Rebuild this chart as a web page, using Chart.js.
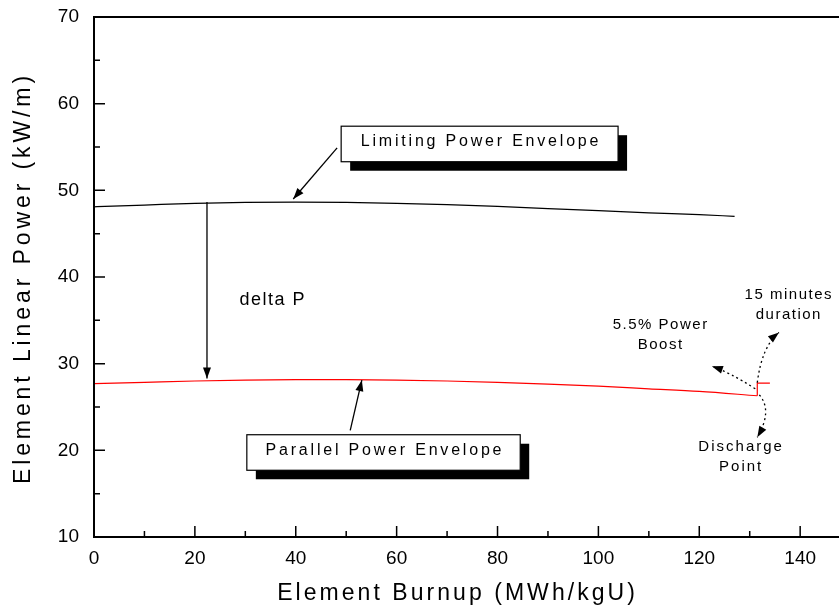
<!DOCTYPE html>
<html>
<head>
<meta charset="utf-8">
<script src="https://cdn.jsdelivr.net/npm/chart.js@4"></script>
<style>
  html, body { margin: 0; padding: 0; background: #fff; }
  #wrap { width: 839px; height: 612px; }
</style>
</head>
<body>
<div id="wrap"><canvas id="burnupChart" width="839" height="612"></canvas></div>
<script>
// data
const burnupLimiting = [0, 10, 20, 30, 40, 50, 60, 70, 80, 90, 100, 110, 120, 127];
const powerLimiting  = [48.1, 48.3, 48.5, 48.6, 48.65, 48.6, 48.5, 48.35, 48.15, 47.9, 47.65, 47.4, 47.2, 47.0];

const burnupParallel = [0, 10, 20, 30, 40, 50, 60, 70, 80, 90, 100, 110, 120, 131.5];
const powerParallel  = [27.7, 27.85, 28.0, 28.1, 28.15, 28.15, 28.1, 28.0, 27.85, 27.65, 27.4, 27.1, 26.8, 26.3];

// 5.5% power boost step at discharge
const burnupBoost = [131.5, 131.5, 134];
const powerBoost  = [26.3, 27.75, 27.75];

const xTicks = [0, 10, 20, 30, 40, 50, 60, 70, 80, 90, 100, 110, 120, 130, 140];
const yTicks = [10, 15, 20, 25, 30, 35, 40, 45, 50, 55, 60, 65, 70];

const xTitle = 'Element Burnup (MWh/kgU)';
const yTitle = 'Element Linear Power (kW/m)';

const FONT = "'Liberation Sans', Arial, sans-serif";

function pts(xs, ys) {
  return xs.map((x, i) => ({x: x, y: ys[i]}));
}

// labels and arrows, placed in data units
const boxes = [
  {text: 'Limiting Power Envelope', x0: 49.0, x1: 103.9, y0: 57.4, y1: 53.3},
  {text: 'Parallel Power Envelope', x0: 30.3, x1: 84.5, y0: 21.8, y1: 17.7}
];
const arrows = [
  {from: [48.2, 54.9], to: [39.5, 49.0]},
  {from: [50.8, 22.3], to: [53.1, 28.1]},
  {from: [22.4, 48.65], to: [22.4, 28.3]}
];
const dottedArrows = [
  {from: [131.1, 27.1], via: [126, 29.0], to: [122.5, 29.7]},
  {from: [131.5, 27.8], via: [132.4, 32.0], to: [135.8, 33.6]},
  {from: [131.9, 26.4], via: [134.6, 24.6], to: [131.5, 21.5]}
];
const notes = [
  {lines: ['delta P'], x: 35.3, y: 37.3, size: 18, spacing: 1.5},
  {lines: ['5.5% Power', 'Boost'], x: 112.2, y: 34.5, size: 15, spacing: 1.5},
  {lines: ['15 minutes', 'duration'], x: 137.6, y: 37.9, size: 15, spacing: 1.5},
  {lines: ['Discharge', 'Point'], x: 128.1, y: 20.4, size: 15, spacing: 2}
];

function arrowHead(ctx, x1, y1, x2, y2) {
  const a = Math.atan2(y2 - y1, x2 - x1);
  const len = 11, w = 4;
  ctx.beginPath();
  ctx.moveTo(x2, y2);
  ctx.lineTo(x2 - len * Math.cos(a) + w * Math.sin(a), y2 - len * Math.sin(a) - w * Math.cos(a));
  ctx.lineTo(x2 - len * Math.cos(a) - w * Math.sin(a), y2 - len * Math.sin(a) + w * Math.cos(a));
  ctx.closePath();
  ctx.fill();
}

function spacedText(ctx, text, x, y, spacing) {
  ctx.letterSpacing = spacing + 'px';
  ctx.fillText(text, x + spacing / 2, y);
  ctx.letterSpacing = '0px';
}

const framePlugin = {
  id: 'frame',
  afterDatasetsDraw(chart) {
    const ctx = chart.ctx;
    const xs = chart.scales.x, ys = chart.scales.y;
    const a = chart.chartArea;
    const px = v => xs.getPixelForValue(v);
    const py = v => ys.getPixelForValue(v);
    ctx.save();
    ctx.strokeStyle = '#000';
    ctx.fillStyle = '#000';

    // axes frame
    ctx.lineWidth = 2;
    ctx.beginPath();
    ctx.moveTo(chart.width, a.top);
    ctx.lineTo(a.left, a.top);
    ctx.lineTo(a.left, a.bottom);
    ctx.lineTo(chart.width, a.bottom);
    ctx.stroke();

    // inward ticks
    ctx.lineWidth = 1.5;
    ctx.beginPath();
    xTicks.forEach(v => {
      const l = v % 20 === 0 ? 11 : 6;
      ctx.moveTo(px(v), a.bottom);
      ctx.lineTo(px(v), a.bottom - l);
    });
    yTicks.forEach(v => {
      const l = v % 10 === 0 ? 11 : 6;
      ctx.moveTo(a.left, py(v));
      ctx.lineTo(a.left + l, py(v));
    });
    ctx.stroke();

    // axis titles (spaced lettering)
    ctx.font = '23px ' + FONT;
    ctx.textAlign = 'center';
    ctx.textBaseline = 'middle';
    spacedText(ctx, xTitle, 456, 594, 3.05);
    ctx.save();
    ctx.translate(24, 280);
    ctx.rotate(-Math.PI / 2);
    spacedText(ctx, yTitle, 0, 0, 3.9);
    ctx.restore();

    // boxes with drop shadow
    boxes.forEach(b => {
      const x0 = px(b.x0), x1 = px(b.x1), y0 = py(b.y0), y1 = py(b.y1);
      ctx.fillStyle = '#000';
      ctx.fillRect(x0 + 9, y0 + 9, x1 - x0, y1 - y0);
      ctx.fillStyle = '#fff';
      ctx.fillRect(x0, y0, x1 - x0, y1 - y0);
      ctx.lineWidth = 1.2;
      ctx.strokeRect(x0, y0, x1 - x0, y1 - y0);
      ctx.fillStyle = '#000';
      ctx.font = '16px ' + FONT;
      ctx.textAlign = 'center';
      ctx.textBaseline = 'middle';
      spacedText(ctx, b.text, (x0 + x1) / 2, (y0 + y1) / 2 - 2, 2.8);
    });

    // solid arrows
    ctx.lineWidth = 1.3;
    arrows.forEach(ar => {
      const x1 = px(ar.from[0]), y1 = py(ar.from[1]), x2 = px(ar.to[0]), y2 = py(ar.to[1]);
      ctx.beginPath();
      ctx.moveTo(x1, y1);
      ctx.lineTo(x2, y2);
      ctx.stroke();
      arrowHead(ctx, x1, y1, x2, y2);
    });

    // dotted curved arrows
    dottedArrows.forEach(ar => {
      const x1 = px(ar.from[0]), y1 = py(ar.from[1]);
      const cx = px(ar.via[0]), cy = py(ar.via[1]);
      const x2 = px(ar.to[0]), y2 = py(ar.to[1]);
      ctx.setLineDash([2, 3]);
      ctx.lineWidth = 1.3;
      ctx.beginPath();
      ctx.moveTo(x1, y1);
      ctx.quadraticCurveTo(cx, cy, x2, y2);
      ctx.stroke();
      ctx.setLineDash([]);
      arrowHead(ctx, cx, cy, x2, y2);
    });

    // text notes
    notes.forEach(n => {
      ctx.font = n.size + 'px ' + FONT;
      ctx.textAlign = 'center';
      ctx.textBaseline = 'middle';
      n.lines.forEach((t, i) => {
        spacedText(ctx, t, px(n.x), py(n.y) + i * (n.size + 5), n.spacing);
      });
    });
    ctx.restore();
  }
};

const ctx = document.getElementById('burnupChart').getContext('2d');
const chart = new Chart(ctx, {
  type: 'scatter',
  data: {
    datasets: [
      {label: 'Limiting Power Envelope', data: pts(burnupLimiting, powerLimiting), showLine: true,
       borderColor: '#000', borderWidth: 1.2, pointRadius: 0, cubicInterpolationMode: 'monotone'},
      {label: 'Parallel Power Envelope', data: pts(burnupParallel, powerParallel), showLine: true,
       borderColor: '#ff0000', borderWidth: 1.2, pointRadius: 0, cubicInterpolationMode: 'monotone'},
      {label: 'Power Boost', data: pts(burnupBoost, powerBoost), showLine: true,
       borderColor: '#ff0000', borderWidth: 1.2, pointRadius: 0}
    ]
  },
  options: {
    responsive: false,
    animation: false,
    events: [],
    layout: {padding: {top: 17, left: 0, right: 0, bottom: 0}},
    plugins: {legend: {display: false}, tooltip: {enabled: false}},
    scales: {
      x: {
        type: 'linear', min: 0, max: 147.7,
        afterBuildTicks: s => { s.ticks = xTicks.map(v => ({value: v})); },
        afterFit: s => { s.height = 75; },
        grid: {display: false, drawTicks: false},
        border: {display: false},
        ticks: {
          autoSkip: false, maxRotation: 0, padding: 10,
          color: '#000', font: {family: FONT, size: 19},
          callback: v => (v % 20 === 0 ? v : '')
        }
      },
      y: {
        min: 10, max: 70,
        afterBuildTicks: s => { s.ticks = yTicks.map(v => ({value: v})); },
        afterFit: s => { s.width = 94; s.paddingTop = 0; s.paddingBottom = 0; },
        grid: {display: false, drawTicks: false},
        border: {display: false},
        ticks: {
          autoSkip: false, padding: 15,
          color: '#000', font: {family: FONT, size: 19},
          callback: v => (v % 10 === 0 ? v : '')
        }
      }
    }
  },
  plugins: [framePlugin]
});
</script>
</body>
</html>
